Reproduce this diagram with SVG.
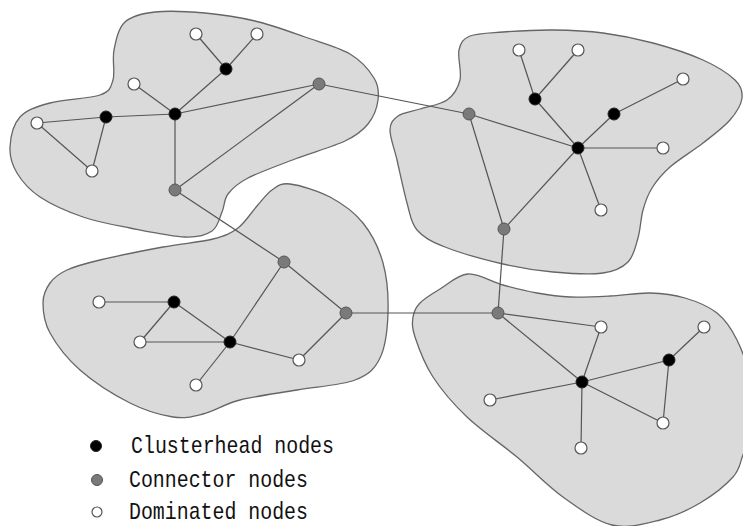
<svg xmlns="http://www.w3.org/2000/svg" width="743" height="526" viewBox="0 0 743 526">
<style>
.blob{fill:#dadada;stroke:#666;stroke-width:1.3}
.edge{stroke:#555;stroke-width:1.2;fill:none}
.ch{fill:#000;stroke:#222;stroke-width:1}
.cn{fill:#7a7a7a;stroke:#555;stroke-width:1}
.dm{fill:#fff;stroke:#555;stroke-width:1.2}
.lbl{font-family:"Liberation Mono","DejaVu Sans Mono",monospace;font-size:24px;fill:#111}
</style>
<rect width="743" height="526" fill="#fff"/>
<g id="clusters">
<path id="cluster1" class="blob" d="M114,50 C116,40.3 118.2,28.3 125,22 S141.7,13.5 155,12 S188.3,11.5 205,13 S238.3,17 255,21 S289.2,31.5 305,37 S338.5,47.2 350,54 S369.3,70.3 374,78 S379,92.3 378,100 S373.5,117.2 368,124 S357.2,135.2 345,141 S311.2,152.8 295,159 S259.2,172.2 248,178 S232.3,188.3 228,194 S224.7,205.8 222,212 S218.2,226.8 212,231 S198.7,237.5 185,237 S147,231.3 130,228 S98,222.2 83,217 S51,204.3 40,197 S22,181.3 17,173 S9.5,156.3 10,147 S13.3,124.3 20,117 S36.7,106.7 50,103 S89.5,98.8 100,95 S110.7,87.5 113,80 S112,59.7 114,50 Z"/>
<path id="cluster2" class="blob" d="M460,80 C462,71.7 457.3,57.3 459,50 S462.7,39 470,36 S489.2,33 503,32 S536.3,29.8 553,30 S586.3,30.8 603,33 S636.3,38.5 653,43 S689.3,53.8 703,60 S728.5,73.7 735,80 S742.8,91.3 742,98 S736.5,112.5 730,120 S713,135.2 703,143 S678.5,159.5 670,167 S656.5,180.8 652,188 S645.3,201.7 643,210 S640.5,229.3 638,238 S633.8,256.2 628,262 S615.5,271.3 603,273 S569.7,273.5 553,272 S521,268.2 503,264 S459.3,252.7 445,247 S423.3,237.3 417,230 S410.3,214.7 407,203 S399.8,172.2 397,160 S389.8,137.3 390,130 S393,119.5 398,116 S411.8,111.7 420,109 S440.3,104.8 447,100 S458,88.3 460,80 Z"/>
<path id="cluster3" class="blob" d="M290,184 C299.7,185.2 317.8,190.5 330,197 S354.2,212 363,223 S378.8,248 383,263 S388.5,297.2 388,313 S385.5,346.8 380,358 S368.8,374.7 355,380 S316.2,386.7 297,390 S255.7,396 240,400 S214.2,411.2 203,414 S185.2,418.8 173,417 S145.5,410.8 130,403 S93.3,381.7 80,370 S56.2,344.2 50,333 S43,311.3 43,303 S46,288.5 50,283 S58.7,273.8 67,270 S84,263.8 100,260 S144.2,250.5 163,247 S200.5,242.2 213,239 S230.7,233.5 238,228 S251.3,212.3 257,206 S266.5,193.7 272,190 S280.3,182.8 290,184 Z"/>
<path id="cluster4" class="blob" d="M468,274 C478.5,273.3 491.5,281.8 503,285 S525.8,291 537,293 S557.8,296.5 570,297 S596.7,296.7 610,296 S637.5,292.7 650,293 S673.8,294.7 685,298 S708.3,306 717,313 S731.5,328.8 737,340 S747.5,365 750,380 S753.2,417.5 752,430 S746.2,447.2 743,455 S740.2,469 733,477 S712.2,495.8 700,503 S674.7,516.3 660,520 S628.2,528.8 612,525 S578.8,508.3 563,497 S533,470.3 517,457 S481,430.3 467,417 S441.7,390.3 433,377 S418.3,347 415,337 S412.2,322.7 413,317 S415.5,307.7 420,303 S432,293.8 440,289 S457.5,274.7 468,274 Z"/>
</g>
<g id="connectors" class="edge">
<line x1="196" y1="34" x2="226" y2="69"/>
<line x1="257" y1="34" x2="226" y2="69"/>
<line x1="226" y1="69" x2="175" y2="114"/>
<line x1="134" y1="84" x2="175" y2="114"/>
<line x1="175" y1="114" x2="319" y2="84"/>
<line x1="106" y1="117" x2="175" y2="114"/>
<line x1="37" y1="123" x2="106" y2="117"/>
<line x1="37" y1="123" x2="92" y2="171"/>
<line x1="92" y1="171" x2="106" y2="117"/>
<line x1="175" y1="114" x2="175" y2="190"/>
<line x1="175" y1="190" x2="319" y2="84"/>
<line x1="319" y1="84" x2="469" y2="114"/>
<line x1="175" y1="190" x2="284" y2="262"/>
<line x1="519" y1="50" x2="535" y2="99"/>
<line x1="578" y1="50" x2="535" y2="99"/>
<line x1="535" y1="99" x2="578" y2="148"/>
<line x1="683" y1="79" x2="614" y2="114"/>
<line x1="614" y1="114" x2="578" y2="148"/>
<line x1="469" y1="114" x2="578" y2="148"/>
<line x1="578" y1="148" x2="663" y2="148"/>
<line x1="578" y1="148" x2="601" y2="210"/>
<line x1="578" y1="148" x2="504" y2="229"/>
<line x1="469" y1="114" x2="504" y2="229"/>
<line x1="504" y1="229" x2="498" y2="313"/>
<line x1="99" y1="302" x2="174" y2="302"/>
<line x1="174" y1="302" x2="140" y2="342"/>
<line x1="174" y1="302" x2="230" y2="342"/>
<line x1="140" y1="342" x2="230" y2="342"/>
<line x1="230" y1="342" x2="284" y2="262"/>
<line x1="230" y1="342" x2="196" y2="385"/>
<line x1="230" y1="342" x2="299" y2="360"/>
<line x1="299" y1="360" x2="346" y2="313"/>
<line x1="284" y1="262" x2="346" y2="313"/>
<line x1="346" y1="313" x2="498" y2="313"/>
<line x1="498" y1="313" x2="601" y2="327"/>
<line x1="498" y1="313" x2="582" y2="382"/>
<line x1="601" y1="327" x2="582" y2="382"/>
<line x1="582" y1="382" x2="669" y2="360"/>
<line x1="669" y1="360" x2="704" y2="327"/>
<line x1="669" y1="360" x2="663" y2="423"/>
<line x1="582" y1="382" x2="663" y2="423"/>
<line x1="582" y1="382" x2="490" y2="400"/>
<line x1="582" y1="382" x2="581" y2="448"/>
</g>
<g id="clusterheads">
<circle id="ch1" class="ch" cx="226" cy="69" r="6"/>
<circle id="ch2" class="ch" cx="175" cy="114" r="6"/>
<circle id="ch3" class="ch" cx="106" cy="117" r="6"/>
<circle id="ch4" class="ch" cx="535" cy="99" r="6"/>
<circle id="ch5" class="ch" cx="614" cy="114" r="6"/>
<circle id="ch6" class="ch" cx="578" cy="148" r="6"/>
<circle id="ch7" class="ch" cx="174" cy="302" r="6"/>
<circle id="ch8" class="ch" cx="230" cy="342" r="6"/>
<circle id="ch9" class="ch" cx="669" cy="360" r="6"/>
<circle id="ch10" class="ch" cx="582" cy="382" r="6"/>
</g>
<g id="connector-nodes">
<circle id="cn1" class="cn" cx="319" cy="84" r="6"/>
<circle id="cn2" class="cn" cx="175" cy="190" r="6"/>
<circle id="cn3" class="cn" cx="469" cy="114" r="6"/>
<circle id="cn4" class="cn" cx="504" cy="229" r="6"/>
<circle id="cn5" class="cn" cx="284" cy="262" r="6"/>
<circle id="cn6" class="cn" cx="346" cy="313" r="6"/>
<circle id="cn7" class="cn" cx="498" cy="313" r="6"/>
</g>
<g id="dominated">
<circle id="dm1" class="dm" cx="196" cy="34" r="6"/>
<circle id="dm2" class="dm" cx="257" cy="34" r="6"/>
<circle id="dm3" class="dm" cx="134" cy="84" r="6"/>
<circle id="dm4" class="dm" cx="37" cy="123" r="6"/>
<circle id="dm5" class="dm" cx="92" cy="171" r="6"/>
<circle id="dm6" class="dm" cx="519" cy="50" r="6"/>
<circle id="dm7" class="dm" cx="578" cy="50" r="6"/>
<circle id="dm8" class="dm" cx="683" cy="79" r="6"/>
<circle id="dm9" class="dm" cx="663" cy="148" r="6"/>
<circle id="dm10" class="dm" cx="601" cy="210" r="6"/>
<circle id="dm11" class="dm" cx="99" cy="302" r="6"/>
<circle id="dm12" class="dm" cx="140" cy="342" r="6"/>
<circle id="dm13" class="dm" cx="299" cy="360" r="6"/>
<circle id="dm14" class="dm" cx="196" cy="385" r="6"/>
<circle id="dm15" class="dm" cx="601" cy="327" r="6"/>
<circle id="dm16" class="dm" cx="704" cy="327" r="6"/>
<circle id="dm17" class="dm" cx="490" cy="400" r="6"/>
<circle id="dm18" class="dm" cx="663" cy="423" r="6"/>
<circle id="dm19" class="dm" cx="581" cy="448" r="6"/>
</g>
<g id="legend">
<circle class="ch" cx="96" cy="446" r="5.5"/>
<text class="lbl" x="131" y="453" textLength="203" lengthAdjust="spacingAndGlyphs">Clusterhead nodes</text>
<circle class="cn" cx="97" cy="480" r="5.5"/>
<text class="lbl" x="129" y="487" textLength="179" lengthAdjust="spacingAndGlyphs">Connector nodes</text>
<circle class="dm" cx="97" cy="512" r="5"/>
<text class="lbl" x="129" y="519" textLength="179" lengthAdjust="spacingAndGlyphs">Dominated nodes</text>
</g>
</svg>
